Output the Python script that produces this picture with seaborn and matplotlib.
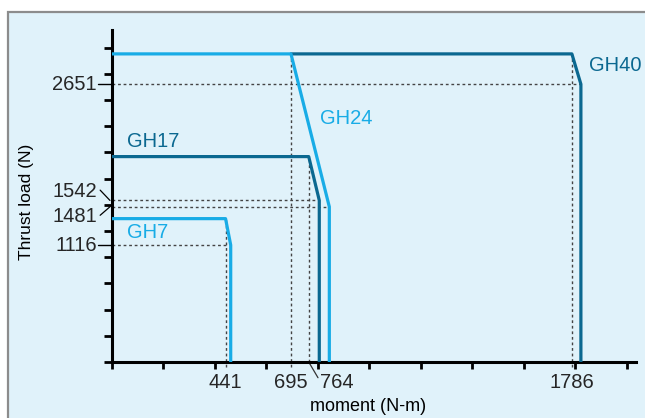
import matplotlib
matplotlib.use("Agg")
import matplotlib.pyplot as plt
import matplotlib.patches as mpatches
import numpy as np
import pandas as pd
import seaborn as sns

# ---- data ----
series = ["GH40", "GH24", "GH17", "GH7"]
gh7_x = [0, 441, 461, 461]
gh7_y = [1368, 1368, 1116, 0]
gh17_x = [0, 764, 805, 805]
gh17_y = [1960, 1960, 1542, 0]
gh24_x = [0, 695, 844, 844]
gh24_y = [2940, 2940, 1481, 0]
gh40_x = [695, 1786, 1821, 1821]
gh40_y = [2940, 2940, 2651, 0]

x_marks = [441, 695, 764, 1786]
y_marks = [2651, 1542, 1481, 1116]

LIGHT = "#18ace6"
DARK = "#0b6890"
colors = {"GH40": DARK, "GH24": LIGHT, "GH17": DARK, "GH7": LIGHT}

rows = []
for name, xs, ys in [("GH40", gh40_x, gh40_y), ("GH24", gh24_x, gh24_y),
                     ("GH17", gh17_x, gh17_y), ("GH7", gh7_x, gh7_y)]:
    for i, (x, y) in enumerate(zip(xs, ys)):
        rows.append({"series": name, "order": i, "moment": x, "load": y})
df = pd.DataFrame(rows)

sns.set_theme(style="white")
plt.rcParams["font.family"] = ["Liberation Sans", "DejaVu Sans"]

fig = plt.figure(figsize=(6.45, 4.18), dpi=100)
fig.patch.set_facecolor("white")

# background panel axes
bg = fig.add_axes([0, 0, 1, 1], zorder=0)
bg.set_xlim(0, 645)
bg.set_ylim(418, 0)
bg.axis("off")
bg.add_patch(mpatches.Rectangle((8, 12), 700, 500, facecolor="#e0f2fa",
                                edgecolor="#8c8c8c", linewidth=1.6))

ax = fig.add_axes([112 / 645, 1 - 362 / 418, (636 - 112) / 645, (362 - 30) / 418], zorder=2)
ax.set_facecolor("none")

# reference dotted lines
dot = dict(color="#444444", linestyle=(0, (2, 2)), linewidth=1.0, zorder=1)
ax.plot([0, 1821], [2651, 2651], **dot)
ax.plot([0, 805], [1542, 1542], **dot)
ax.plot([0, 844], [1481, 1481], **dot)
ax.plot([0, 441], [1116, 1116], **dot)
ax.plot([441, 441], [-45, 1368], clip_on=False, **dot)
ax.plot([695, 695], [-45, 2940], clip_on=False, **dot)
ax.plot([764, 764], [0, 1960], **dot)
ax.plot([1786, 1786], [-45, 2940], clip_on=False, **dot)

sns.lineplot(data=df, x="moment", y="load", hue="series", hue_order=series,
             palette=colors, sort=False, estimator=None, linewidth=2.3,
             legend=False, ax=ax, zorder=3)
ax.set_xlim(0, 2035)
ax.set_ylim(0, 3168)

# curve labels
lab_fs = 14.5
ax.text(1852, 2834, "GH40", color=DARK, fontsize=lab_fs, va="center", ha="left")
ax.text(808, 2328, "GH24", color=LIGHT, fontsize=lab_fs, va="center", ha="left")
ax.text(58, 2100, "GH17", color=DARK, fontsize=lab_fs, va="center", ha="left")
ax.text(58, 1240, "GH7", color=LIGHT, fontsize=lab_fs, va="center", ha="left")

# axes styling
for s in ["top", "right"]:
    ax.spines[s].set_visible(False)
for s in ["left", "bottom"]:
    ax.spines[s].set_color("black")
    ax.spines[s].set_linewidth(2.2)
ax.set_xticks(np.arange(0, 2001, 200))
ax.set_yticks(np.arange(0, 3001, 250))
ax.set_xticklabels([])
ax.set_yticklabels([])
ax.tick_params(axis="x", direction="out", length=5, width=2, color="black", bottom=True)
ax.tick_params(axis="y", direction="out", length=5.5, width=2, color="black", left=True)

tfs = 14.5
# x value labels
ax.text(441, -200, "441", fontsize=tfs, ha="center", va="center", clip_on=False)
ax.text(695, -200, "695", fontsize=tfs, ha="center", va="center", clip_on=False)
ax.text(874, -200, "764", fontsize=tfs, ha="center", va="center", clip_on=False)
ax.text(1786, -200, "1786", fontsize=tfs, ha="center", va="center", clip_on=False)
ax.plot([764, 800], [0, -150], color="#333333", linewidth=0.9, clip_on=False)

# y value labels
ax.text(-58, 2651, "2651", fontsize=tfs, ha="right", va="center", clip_on=False)
ax.text(-58, 1630, "1542", fontsize=tfs, ha="right", va="center", clip_on=False)
ax.text(-58, 1385, "1481", fontsize=tfs, ha="right", va="center", clip_on=False)
ax.text(-58, 1110, "1116", fontsize=tfs, ha="right", va="center", clip_on=False)
ax.plot([-54, 0], [2651, 2651], color="black", linewidth=1.0, clip_on=False)
ax.plot([-54, 0], [1116, 1116], color="black", linewidth=1.0, clip_on=False)
ax.plot([-46, -8], [1640, 1542], color="black", linewidth=0.9, clip_on=False)
ax.plot([-46, -8], [1400, 1481], color="black", linewidth=0.9, clip_on=False)

ax.set_xlabel("")
ax.set_ylabel("")
fig.text(27 / 645, 1 - 202 / 418, "Thrust load (N)", rotation=90, fontsize=12.5,
         ha="center", va="center", color="black")
fig.text(368 / 645, 3 / 418, "moment (N-m)", fontsize=13, ha="center", va="bottom",
         color="black")

fig.savefig("out.png", dpi=100)
